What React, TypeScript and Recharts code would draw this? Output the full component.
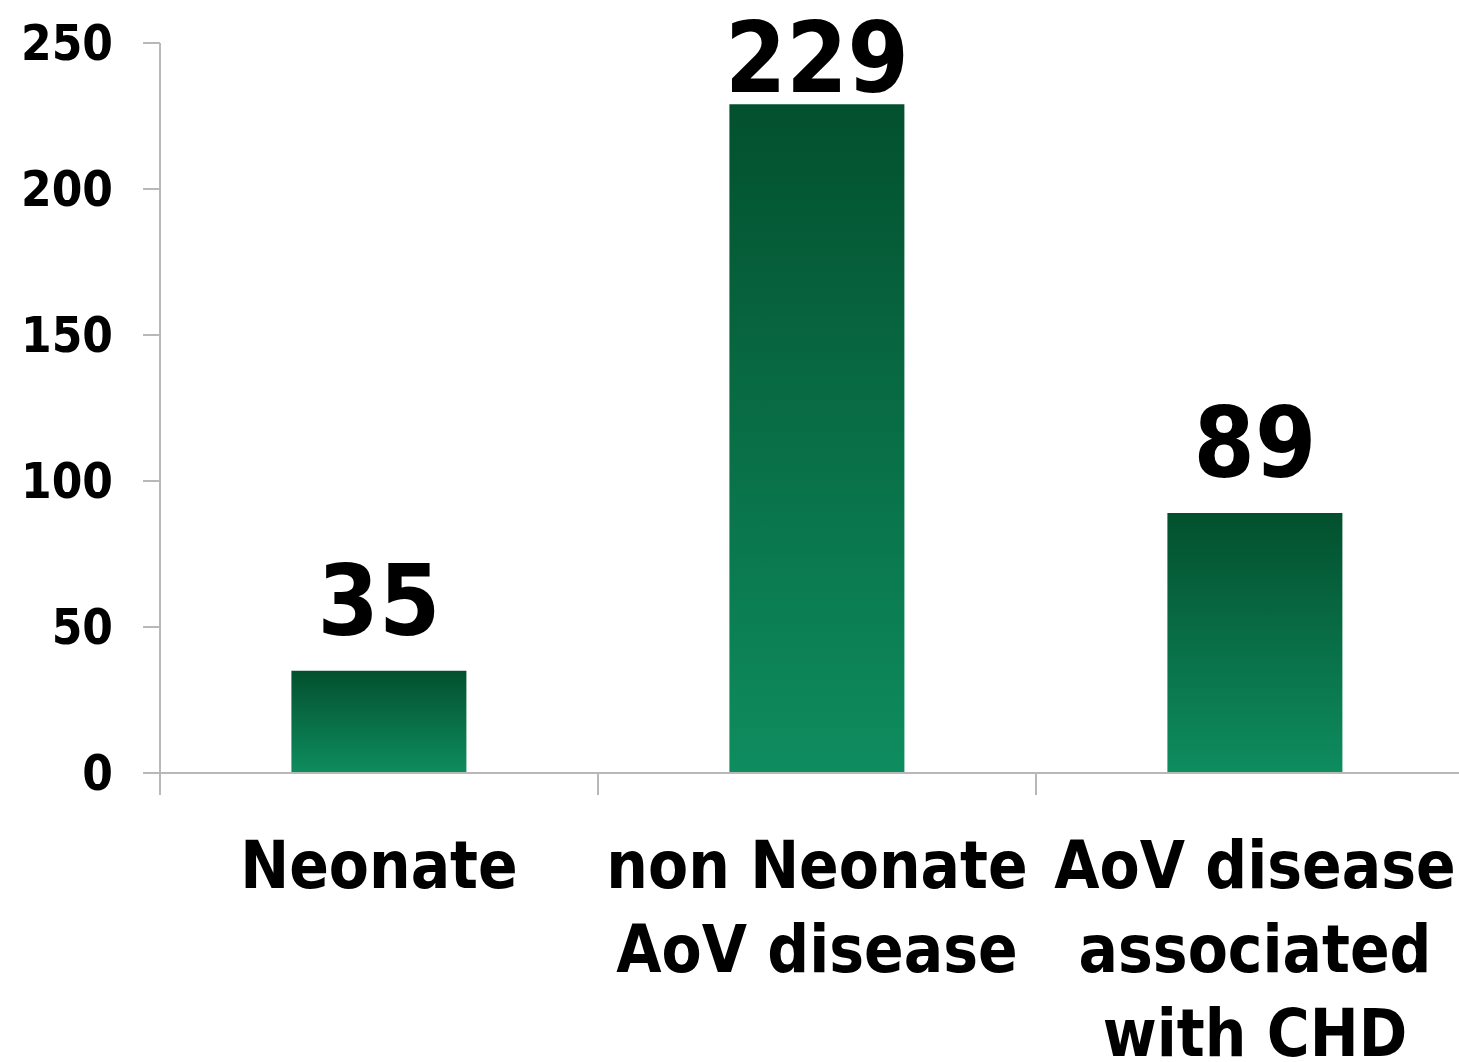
import { BarChart, Bar, XAxis, YAxis, LabelList } from "recharts";

const categories = ["Neonate", "non Neonate AoV disease", "AoV disease associated with CHD"];
const categoryLines = [["Neonate"], ["non Neonate", "AoV disease"], ["AoV disease", "associated", "with CHD"]];
const counts = [35, 229, 89];
const yTicks = [0, 50, 100, 150, 200, 250];

const FONT = "'DejaVu Sans Condensed', 'DejaVu Sans', sans-serif";
const AXIS_GRAY = "#b8b8b8";

const data = categories.map((name, i) => ({ name, lines: categoryLines[i], count: counts[i] }));

const CategoryTick = (props: any) => {
  const { x, y, payload, index } = props;
  const half = payload.offset || 0;
  const lines = data[index]?.lines || [payload.value];
  return (
    <g>
      <line x1={x - half} x2={x - half} y1={y} y2={y + 22} stroke={AXIS_GRAY} strokeWidth={2} />
      <text
        x={x}
        y={y + 115}
        textAnchor="middle"
        fill="#000"
        style={{ fontFamily: FONT, fontWeight: 700, fontSize: 65, fontStretch: "condensed" }}
      >
        {lines.map((l: string, i: number) => (
          <tspan key={i} x={x} dy={i === 0 ? 0 : 84}>
            {l}
          </tspan>
        ))}
      </text>
    </g>
  );
};

// value label sits ~36px above the bar, but never higher than the top of the frame
const ValueLabel = (props: any) => {
  const { x, y, width, value } = props;
  return (
    <text
      x={x + width / 2}
      y={Math.max(y - 36, 92)}
      textAnchor="middle"
      fill="#000"
      style={{ fontFamily: FONT, fontWeight: 700, fontSize: 98, fontStretch: "condensed" }}
    >
      {value}
    </text>
  );
};

const App = () => {
  return (
    <div style={{ position: "fixed", left: 0, top: 0, width: 1459, height: 1062, overflow: "hidden", background: "#fff" }}>
      <BarChart
        width={1480}
        height={1062}
        data={data}
        margin={{ top: 43, right: 6, bottom: 0, left: 0 }}
        barCategoryGap="30%"
      >
        <defs>
          <linearGradient id="greenBar" x1="0" y1="0" x2="0" y2="1">
            <stop offset="0%" stopColor="#03502e" />
            <stop offset="100%" stopColor="#0e8d5f" />
          </linearGradient>
        </defs>
        <XAxis
          dataKey="name"
          height={289}
          interval={0}
          tickSize={0}
          tickMargin={0}
          tickLine={false}
          axisLine={{ stroke: AXIS_GRAY, strokeWidth: 2 }}
          tick={<CategoryTick />}
        />
        <YAxis
          width={160}
          domain={[0, 250]}
          ticks={yTicks}
          interval={0}
          tickSize={17}
          tickMargin={30}
          axisLine={{ stroke: AXIS_GRAY, strokeWidth: 2 }}
          tickLine={{ stroke: AXIS_GRAY, strokeWidth: 2 }}
          tick={{
            fill: "#000",
            fontSize: 49,
            fontWeight: 700,
            fontFamily: FONT,
            style: { fontStretch: "condensed" },
          }}
        />
        <Bar dataKey="count" fill="url(#greenBar)" isAnimationActive={false}>
          <LabelList dataKey="count" content={<ValueLabel />} />
        </Bar>
      </BarChart>
    </div>
  );
};

export default App;
